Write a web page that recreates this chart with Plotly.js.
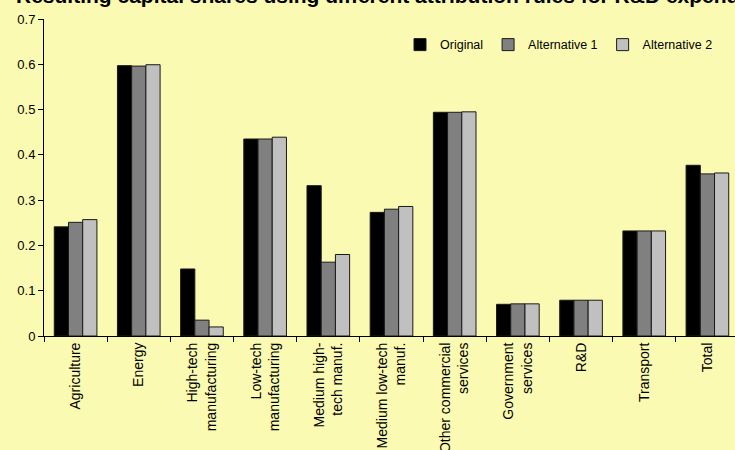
<!DOCTYPE html>
<html>
<head>
<meta charset="utf-8">
<script src="https://cdn.plot.ly/plotly-3.0.1.min.js"></script>
<style>
html, body { margin: 0; padding: 0; overflow: hidden; background: #FAFAB2; }
#chart { width: 745px; height: 450px; }
</style>
</head>
<body>
<div id="chart"></div>
<script>
const categories = ["Agriculture", "Energy", "High-tech manufacturing", "Low-tech manufacturing",
  "Medium high-tech manuf.", "Medium low-tech manuf.", "Other commercial services",
  "Government services", "R&D", "Transport", "Total"];
const tickLabels = ["Agriculture", "Energy", "High-tech<br>manufacturing", "Low-tech<br>manufacturing",
  "Medium high-<br>tech manuf.", "Medium low-tech<br>manuf.", "Other commercial<br>services",
  "Government<br>services", "R&D", "Transport", "Total"];
const original = [0.241, 0.597, 0.148, 0.435, 0.332, 0.273, 0.494, 0.070, 0.079, 0.232, 0.377];
const alternative1 = [0.251, 0.596, 0.035, 0.435, 0.163, 0.280, 0.494, 0.071, 0.079, 0.232, 0.358];
const alternative2 = [0.257, 0.599, 0.020, 0.439, 0.180, 0.286, 0.495, 0.071, 0.079, 0.232, 0.360];
const yTicks = [0, 0.1, 0.2, 0.3, 0.4, 0.5, 0.6, 0.7];
const yTickLabels = ["0", "0.1", "0.2", "0.3", "0.4", "0.5", "0.6", "0.7"];

const FONT = "Liberation Sans, Arial, sans-serif";
const mk = (name, y, color) => ({
  type: "bar", name: name, x: categories, y: y,
  marker: { color: color, line: { color: "#1a1a1a", width: 1 } },
  hoverinfo: "skip"
});
const data = [
  mk("Original", original, "#000000"),
  mk("Alternative 1", alternative1, "#808080"),
  mk("Alternative 2", alternative2, "#C0C0C0")
];
const layout = {
  width: 745, height: 450,
  margin: { l: 44, r: 6, t: 19, b: 114 },
  paper_bgcolor: "#FAFAB2", plot_bgcolor: "#FAFAB2",
  font: { family: FONT, color: "#000", size: 12 },
  barmode: "group", bargap: 0.325, bargroupgap: 0,
  showlegend: true,
  legend: {
    orientation: "h", x: 0.9698, xanchor: "right", y: 0.918, yanchor: "middle",
    bgcolor: "rgba(0,0,0,0)", font: { family: FONT, size: 12.5, color: "#000" },
    itemwidth: 30, traceorder: "normal"
  },
  xaxis: {
    type: "category", tickvals: categories, ticktext: tickLabels,
    tickangle: -90, tickfont: { family: FONT, size: 14, color: "#000" },
    ticks: "outside", tickson: "boundaries", ticklen: 5, tickcolor: "#000",
    showline: true, linecolor: "#000", linewidth: 1,
    showgrid: false, zeroline: false, range: [-0.5, 10.5], fixedrange: true
  },
  yaxis: {
    range: [0, 0.7], tickvals: yTicks, ticktext: yTickLabels,
    tickfont: { family: FONT, size: 13, color: "#000" },
    ticks: "outside", ticklen: 5, tickcolor: "#000",
    showline: true, linecolor: "#000", linewidth: 1,
    showgrid: false, zeroline: false, fixedrange: true
  },
  annotations: [{
    text: "<b>Resulting capital shares using different attribution rules for R&D expenditure</b>",
    xref: "paper", yref: "paper", x: (14 - 44) / 695, y: 1, xanchor: "left", yanchor: "bottom",
    yshift: 10, showarrow: false, align: "left",
    font: { family: FONT, size: 21, color: "#000" }
  }]
};
Plotly.newPlot("chart", data, layout, { displayModeBar: false, staticPlot: true });
</script>
</body>
</html>
